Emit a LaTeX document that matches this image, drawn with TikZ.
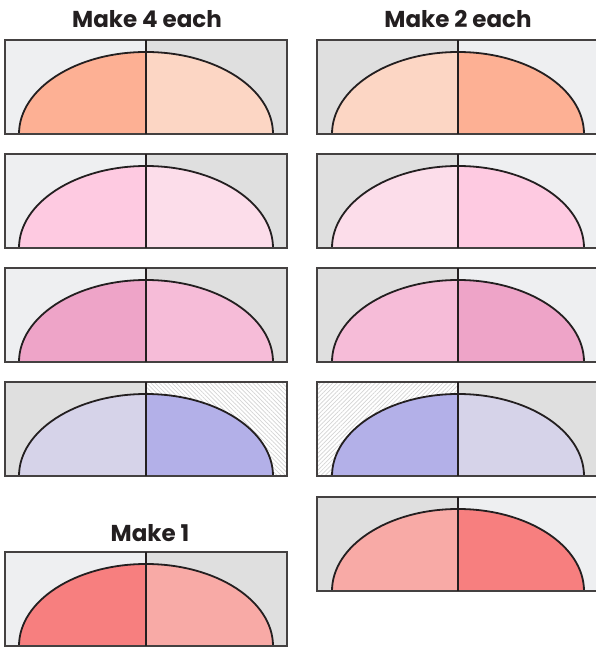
\documentclass[tikz,border=0pt]{standalone}
\usepackage{fontspec}
\newfontfamily\titlefont{Poppins}[UprightFont=* Bold]
\usetikzlibrary{patterns.meta}
\definecolor{bgl}{HTML}{EEEFF1}
\definecolor{bgd}{HTML}{DFDFDF}
\definecolor{ink}{HTML}{231F20}
\definecolor{peachA}{HTML}{FDB094}
\definecolor{peachB}{HTML}{FCD6C4}
\definecolor{pinkA}{HTML}{FECAE1}
\definecolor{pinkB}{HTML}{FCDDEA}
\definecolor{roseA}{HTML}{EEA4C8}
\definecolor{roseB}{HTML}{F6BCD8}
\definecolor{lavA}{HTML}{D6D3E9}
\definecolor{lavB}{HTML}{B3B0E8}
\definecolor{redA}{HTML}{F77F7F}
\definecolor{redB}{HTML}{F8AAA6}
\definecolor{hatchc}{HTML}{D4D4D4}
\tikzset{
  bglight/.style={fill=bgl},
  bgdark/.style={fill=bgd},
  hatchbs/.style={fill=white,postaction={pattern={Lines[angle=-45,distance=3pt,line width=0.7pt]},pattern color=hatchc}},
  hatchfs/.style={fill=white,postaction={pattern={Lines[angle=45,distance=3pt,line width=0.7pt]},pattern color=hatchc}},
  outline/.style={draw=ink,line width=1.8pt},
  frame/.style={draw=ink!85,line width=1.6pt},
  title/.style={font=\titlefont\fontsize{23}{27}\selectfont,text=ink,anchor=base,inner sep=0pt}
}
% #1 left x, #2 bottom y, #3 split x, #4 right x, #5 left bg, #6 right bg, #7 left fill, #8 right fill, #9 x radius
\newcommand\bannerpanel[9]{%
  \fill[#5] (#1,#2) rectangle (#3,#2+94);
  \fill[#6] (#3,#2) rectangle (#4,#2+94);
  \fill[#7] (#3,#2) -- (#3-#9,#2) arc[start angle=180,end angle=90,x radius=#9,y radius=82] -- cycle;
  \fill[#8] (#3,#2) -- (#3+#9,#2) arc[start angle=0,end angle=90,x radius=#9,y radius=82] -- cycle;
  \draw[outline] (#3-#9,#2) arc[start angle=180,end angle=0,x radius=#9,y radius=82];
  \draw[frame] (#1,#2) rectangle (#4,#2+94);
  \draw[outline] (#3,#2) -- (#3,#2+94);
}
\begin{document}
\begin{tikzpicture}[x=1pt,y=1pt]
\useasboundingbox (0,0) rectangle (596,648);
\clip (0,0) rectangle (596,648);
\node[title] (t4) at (147,620) {Make 4 each};
\node[title] (t2) at (458,620) {Make 2 each};
\node[title] (t1) at (150,106) {Make 1};
% left column
\bannerpanel{5}{514}{146}{287}{bglight}{bgdark}{peachA}{peachB}{127}
\bannerpanel{5}{400}{146}{287}{bglight}{bgdark}{pinkA}{pinkB}{127}
\bannerpanel{5}{286}{146}{287}{bglight}{bgdark}{roseA}{roseB}{127}
\bannerpanel{5}{172}{146}{287}{bgdark}{hatchbs}{lavA}{lavB}{127}
\bannerpanel{5}{2}{146}{287}{bglight}{bgdark}{redA}{redB}{127}
% right column
\bannerpanel{317}{514}{458}{600}{bgdark}{bglight}{peachB}{peachA}{126}
\bannerpanel{317}{400}{458}{600}{bgdark}{bglight}{pinkB}{pinkA}{126}
\bannerpanel{317}{286}{458}{600}{bgdark}{bglight}{roseB}{roseA}{126}
\bannerpanel{317}{172}{458}{600}{hatchfs}{bgdark}{lavB}{lavA}{126}
\bannerpanel{317}{57}{458}{600}{bgdark}{bglight}{redB}{redA}{126}
\end{tikzpicture}
\end{document}
